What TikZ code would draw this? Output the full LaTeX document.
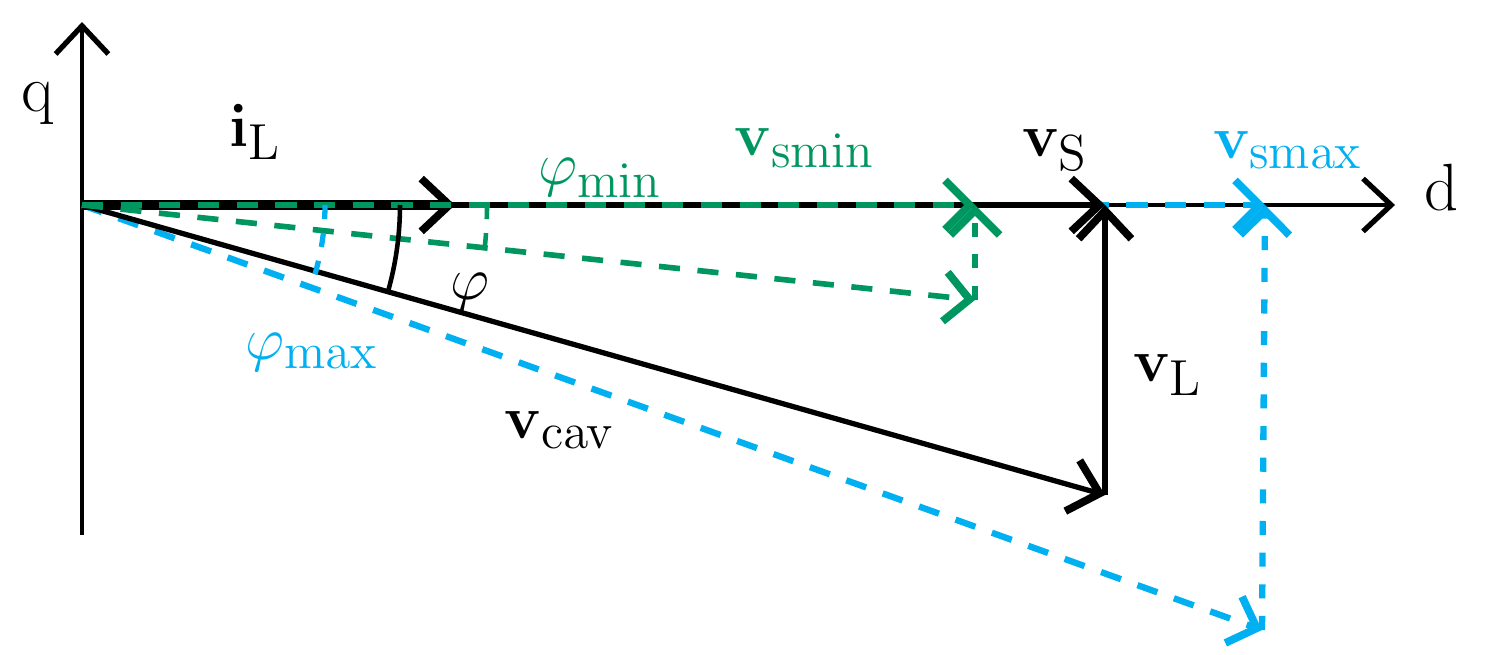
\documentclass[tikz,border=0pt]{standalone}
\usetikzlibrary{arrows.meta}
\definecolor{vgreen}{RGB}{0,150,95}
\definecolor{vblue}{RGB}{0,176,240}
\begin{document}
\begin{tikzpicture}[x=0.01cm,y=-0.01cm,
  font=\fontsize{19}{22}\selectfont,
  ax/.style={line width=1.2pt,-{Straight Barb[length=8pt,width=15pt,line width=1.5pt]}},
  vec/.style={line width=1.5pt,-{Straight Barb[length=8pt,width=15pt,line width=2.2pt]}},
  gr/.style={vgreen,line width=1.6pt,dash pattern=on 6pt off 5pt,-{Straight Barb[length=7pt,width=14pt,line width=2.2pt]}},
  bl/.style={vblue,line width=1.8pt,dash pattern=on 6pt off 5pt,-{Straight Barb[length=7pt,width=14pt,line width=2.2pt]}}]
\useasboundingbox (0,0) rectangle (1501,655);
% points
\coordinate (O) at (82,205);
\coordinate (qtop) at (82,22);
\coordinate (qbot) at (82,535);
\coordinate (dend) at (1395,205);
\coordinate (iL) at (455,205);
\coordinate (vS) at (1105,205);
\coordinate (vcav) at (1105,495);
\coordinate (vmin) at (975,205);
\coordinate (gtip) at (975,300);
\coordinate (vmax) at (1265,205);
\coordinate (btip) at (1262,630);
% axes
\draw[ax] (qbot) -- (qtop);
\draw[ax] (O) -- (dend);
% phasors
\draw[bl] (O) -- (vmax);
\draw[bl] (O) -- (btip);
\draw[bl,dash pattern=on 4pt off 5pt] (btip) -- (vmax);
\draw[vec] (O) -- (vS);
\draw[vec] (O) -- (vcav);
\draw[vec] (vcav) -- (vS);
\draw[vec,line width=3pt] (O) -- (iL);
\draw[gr] (O) -- (vmin);
\draw[gr] (O) -- (gtip);
\draw[gr,dash pattern=on 4pt off 5pt] (gtip) -- (vmin);
% angles
\draw[line width=1.3pt] (400,205) arc[start angle=0,end angle=15.8,radius=318];
\draw[vgreen,line width=1.3pt,dash pattern=on 4pt off 4pt] (487,205) arc[start angle=0,end angle=6,radius=405];
\draw[vblue,line width=1.5pt,dash pattern=on 4pt off 4pt] (325,205) arc[start angle=0,end angle=19.5,radius=243];
% labels
\node (lq) at (38,103) {q};
\node (ld) at (1442,188) {d};
\node (liL) at (255,132) {$\mathbf{i}_{\mathrm{L}}$};
\node[vgreen] (lphimin) at (600,178) {$\varphi_{\mathrm{min}}$};
\node[vgreen] (lvsmin) at (805,148) {$\mathbf{v}_{\mathrm{smin}}$};
\node (lvs) at (1055,150) {$\mathbf{v}_{\mathrm{S}}$};
\node[vblue] (lvsmax) at (1288,150) {$\mathbf{v}_{\mathrm{smax}}$};
\node (lphi) at (470,292) {$\varphi$};
\node[vblue] (lphimax) at (312,352) {$\varphi_{\mathrm{max}}$};
\node (lvcav) at (560,430) {$\mathbf{v}_{\mathrm{cav}}$};
\node (lvL) at (1168,375) {$\mathbf{v}_{\mathrm{L}}$};
\end{tikzpicture}
\end{document}
